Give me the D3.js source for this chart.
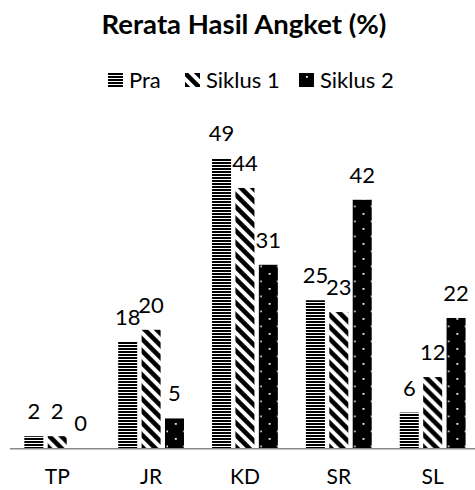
<!DOCTYPE html>
<html><head><meta charset="utf-8">
<script src="https://cdn.jsdelivr.net/npm/d3@7"></script>
<style>html,body{margin:0;padding:0;background:#fff;}svg{display:block;font-family:Lato,"Noto Sans",sans-serif;}</style>
</head><body>
<svg id="chart" width="475" height="490"></svg>
<script>
const title = "Rerata Hasil Angket (%)";
const categories = ["TP", "JR", "KD", "SR", "SL"];
const seriesNames = ["Pra", "Siklus 1", "Siklus 2"];
const praValues = [2, 18, 49, 25, 6];
const siklus1Values = [2, 20, 44, 23, 12];
const siklus2Values = [0, 5, 31, 42, 22];
const yTicks = [0, 10, 20, 30, 40, 50, 60];

const seriesValues = [praValues, siklus1Values, siklus2Values];
const svg = d3.select("#chart");
const defs = svg.append("defs");

// Pattern: horizontal stripes
const p0 = defs.append("pattern").attr("id","pat0").attr("patternUnits","userSpaceOnUse").attr("width",4).attr("height",3);
p0.append("rect").attr("width",4).attr("height",3).attr("fill","#fff");
p0.append("rect").attr("width",4).attr("height",2).attr("fill","#000");
// Pattern: wide downward diagonal
const p1 = defs.append("pattern").attr("id","pat1").attr("patternUnits","userSpaceOnUse").attr("width",12).attr("height",12);
p1.append("rect").attr("width",12).attr("height",12).attr("fill","#fff");
p1.append("path").attr("d","M-3,-3 L15,15 M-3,9 L3,15 M9,-3 L15,3").attr("stroke","#000").attr("stroke-width",4.6);
// Pattern: black with white dots
const p2 = defs.append("pattern").attr("id","pat2").attr("patternUnits","userSpaceOnUse").attr("width",16.8).attr("height",15);
p2.append("rect").attr("width",16.8).attr("height",15).attr("fill","#000");
p2.append("rect").attr("x",7).attr("y",3).attr("width",1.8).attr("height",1.8).attr("fill","#fff");
p2.append("rect").attr("x",15.4).attr("y",10.5).attr("width",1.8).attr("height",1.8).attr("fill","#fff");
const fills = ["url(#pat0)","url(#pat1)","url(#pat2)"];

const x0 = d3.scaleBand().domain(categories).range([10.3, 479.6]).padding(0);
const x1 = d3.scaleBand().domain(seriesNames).range([-32.9, 32.9]).paddingInner(0.188).paddingOuter(0);
const y = d3.scaleLinear().domain([0, d3.max(yTicks)]).range([448, 93.4]);

svg.append("text").attr("x",244).attr("y",34).attr("text-anchor","middle")
  .attr("font-size",27.5).attr("font-weight","bold").attr("fill","#000").text(title);

// Legend
const legendX = [108, 185, 299];
const leg = svg.append("g");
seriesNames.forEach((s,i)=>{
  const g = leg.append("g").attr("transform",`translate(${legendX[i]},73)`);
  g.append("rect").attr("width",15).attr("height",14).attr("fill",fills[i]);
  g.append("text").attr("x",21).attr("y",14.5).attr("font-size",22).attr("fill","#000").text(s);
});

// Bars
const groups = svg.append("g").selectAll("g").data(categories).join("g")
  .attr("transform", d => `translate(${x0(d) + x0.bandwidth()/2},0)`);
groups.each(function(cat, ci){
  const g = d3.select(this);
  seriesNames.forEach((s, si) => {
    const v = seriesValues[si][ci];
    g.append("rect").attr("x", x1(s)).attr("y", y(v)).attr("width", x1.bandwidth())
      .attr("height", y(0) - y(v)).attr("fill", fills[si]);
    g.append("text").attr("x", x1(s) + x1.bandwidth()/2).attr("y", y(v) - 17)
      .attr("text-anchor","middle").attr("font-size",22).attr("fill","#000").text(v);
  });
});

// Axis
const xAxis = d3.axisBottom(x0).tickSize(0).tickPadding(0);
const ax = svg.append("g").attr("transform",`translate(0,${y(0)})`).call(xAxis);
ax.select(".domain").attr("stroke","#898989").attr("stroke-width",1.6).attr("d","M10,0.8H475");
ax.selectAll("text").attr("font-size",21).attr("fill","#000").attr("font-family","Lato")
  .attr("dy", null).attr("y", 36);
</script>
</body></html>
